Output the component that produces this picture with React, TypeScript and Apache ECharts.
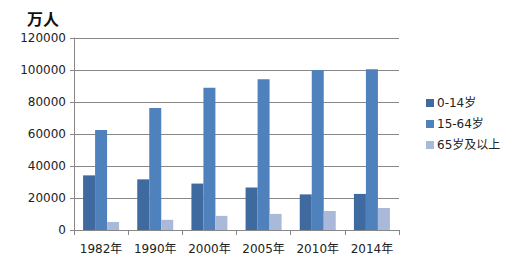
import React, { useEffect, useRef } from "react";
import * as echarts from "echarts";

const categories = ["1982年", "1990年", "2000年", "2005年", "2010年", "2014年"];
const seriesNames = ["0-14岁", "15-64岁", "65岁及以上"];
const age0to14 = [34146, 31659, 29012, 26504, 22259, 22558];
const age15to64 = [62517, 76306, 88910, 94197, 99938, 100469];
const age65plus = [4991, 6368, 8821, 10055, 11894, 13755];
const colors = ["#3E6A9F", "#4F81BD", "#AAB9D9"];

const FONT = "DejaVu Sans, Noto Sans CJK SC, sans-serif";

export default function App() {
  const ref = useRef<HTMLDivElement>(null);
  useEffect(() => {
    document.body.style.margin = "0";
    const chart = echarts.init(ref.current!, null, { renderer: "svg" });
    const values = [age0to14, age15to64, age65plus];
    chart.setOption({
      animation: false,
      backgroundColor: "#ffffff",
      title: {
        text: "万人",
        left: 22,
        top: 6,
        textStyle: { fontFamily: FONT, fontSize: 16, fontWeight: "bold", color: "#111" },
      },
      legend: {
        orient: "vertical",
        left: 421,
        top: 92,
        itemWidth: 8,
        itemHeight: 8,
        itemGap: 9,
        icon: "rect",
        data: seriesNames,
        textStyle: { fontFamily: FONT, fontSize: 12, color: "#222", padding: [0, 0, 0, -2] },
      },
      grid: { left: 74, right: 129, top: 38, bottom: 32, containLabel: false },
      xAxis: {
        type: "category",
        data: categories,
        axisLine: { show: true, lineStyle: { color: "#888", width: 1 } },
        axisTick: { show: true, length: 5, lineStyle: { color: "#888" } },
        axisLabel: { fontFamily: FONT, fontSize: 12, color: "#222", margin: 13, interval: 0, hideOverlap: false },
      },
      yAxis: {
        type: "value",
        min: 0,
        max: 120000,
        interval: 20000,
        axisLine: { show: true, lineStyle: { color: "#888", width: 1 } },
        axisTick: { show: true, length: 4, lineStyle: { color: "#888" } },
        axisLabel: { fontFamily: FONT, fontSize: 12, color: "#222", margin: 8, formatter: (v: number) => String(v) },
        splitLine: { show: true, lineStyle: { color: "#888", width: 1 } },
      },
      series: seriesNames.map((name, i) => ({
        name,
        type: "bar",
        data: values[i],
        barWidth: 12,
        barGap: "0%",
        itemStyle: { color: colors[i] },
      })),
    });
    return () => chart.dispose();
  }, []);
  return <div ref={ref} style={{ width: 528, height: 262 }} />;
}
